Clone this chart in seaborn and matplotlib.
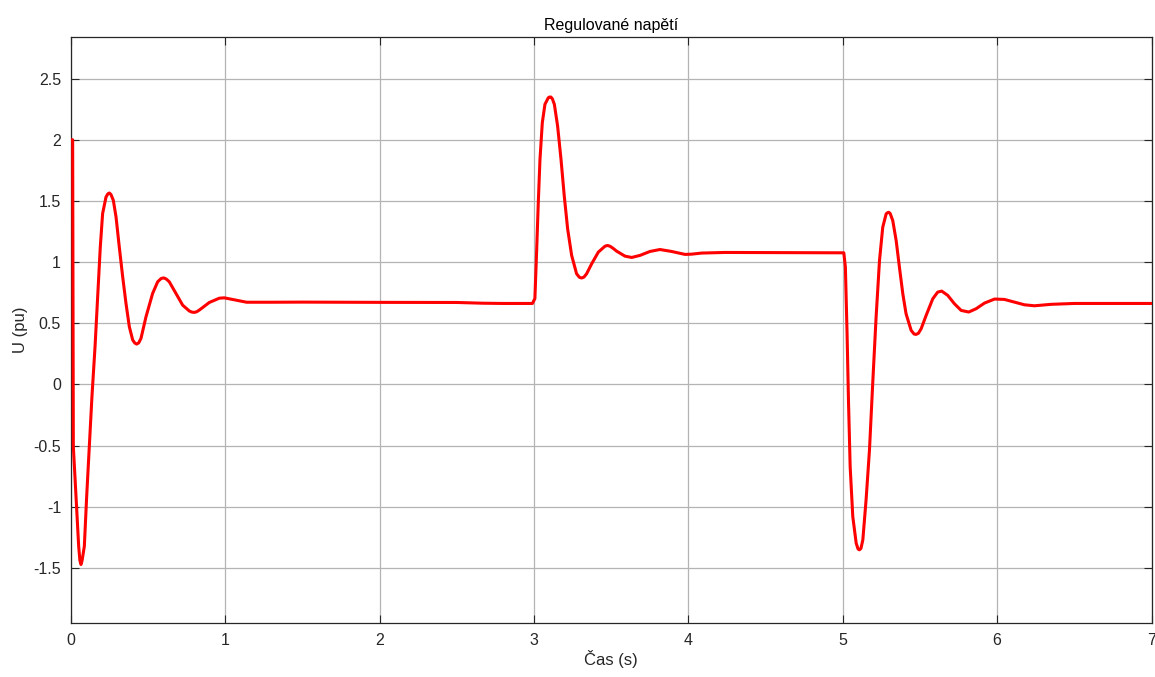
import matplotlib
matplotlib.use("Agg")
import matplotlib.pyplot as plt
import seaborn as sns
import pandas as pd
from matplotlib.ticker import FixedLocator, FuncFormatter

time_s = [
    0.0, 0.012, 0.0164, 0.0337, 0.051, 0.059, 0.066, 0.073, 0.0877, 0.1028, 0.12, 0.137,
    0.157, 0.174, 0.191, 0.206, 0.228, 0.240, 0.2496, 0.260, 0.2755, 0.293, 0.314, 0.336,
    0.3575, 0.379, 0.401, 0.415, 0.4266, 0.440, 0.4547, 0.487, 0.530, 0.5626, 0.585, 0.6015,
    0.618, 0.638, 0.681, 0.7245, 0.768, 0.785, 0.800, 0.815, 0.8325, 0.897, 0.962, 0.994,
    1.07, 1.139, 1.3, 1.5, 2.0, 2.5, 2.67, 2.8, 2.99,
    3.006, 3.017, 3.028, 3.039, 3.054, 3.071, 3.093, 3.102, 3.110, 3.119, 3.132, 3.153,
    3.175, 3.196, 3.218, 3.244, 3.276, 3.294, 3.309, 3.324, 3.341, 3.374, 3.417, 3.460,
    3.476, 3.492, 3.510, 3.535, 3.589, 3.633, 3.687, 3.751, 3.816, 3.892, 3.978, 4.021,
    4.086, 4.237, 4.5, 5.0,
    5.007, 5.017, 5.028, 5.037, 5.048, 5.065, 5.087, 5.099, 5.108, 5.118, 5.130, 5.151,
    5.173, 5.194, 5.216, 5.238, 5.259, 5.281, 5.290, 5.298, 5.307, 5.324, 5.346, 5.367,
    5.389, 5.410, 5.443, 5.462, 5.475, 5.490, 5.508, 5.540, 5.583, 5.615, 5.641, 5.680,
    5.723, 5.767, 5.816, 5.864, 5.918, 5.983, 6.047, 6.112, 6.177, 6.242,
    6.35, 6.5, 7.0,
]
voltage_pu = [
    2.0, 2.0, -0.507, -0.915, -1.323, -1.440, -1.472, -1.440, -1.323, -0.915, -0.507, -0.099,
    0.309, 0.716, 1.124, 1.396, 1.532, 1.558, 1.565, 1.553, 1.505, 1.369, 1.124, 0.880,
    0.662, 0.472, 0.363, 0.338, 0.330, 0.340, 0.377, 0.553, 0.744, 0.839, 0.866, 0.871,
    0.862, 0.839, 0.744, 0.648, 0.600, 0.591, 0.589, 0.594, 0.608, 0.670, 0.705, 0.708,
    0.689, 0.672, 0.672, 0.673, 0.671, 0.670, 0.664, 0.662, 0.662,
    0.702, 1.082, 1.489, 1.842, 2.140, 2.290, 2.344, 2.350, 2.349, 2.335, 2.290, 2.113,
    1.842, 1.543, 1.272, 1.055, 0.905, 0.876, 0.870, 0.878, 0.905, 0.987, 1.082, 1.130,
    1.136, 1.130, 1.115, 1.090, 1.049, 1.038, 1.055, 1.087, 1.103, 1.087, 1.063, 1.065,
    1.074, 1.079, 1.078, 1.077,
    1.076, 0.959, 0.415, -0.129, -0.673, -1.081, -1.298, -1.345, -1.352, -1.340, -1.271, -0.945,
    -0.537, 0.007, 0.551, 1.013, 1.285, 1.394, 1.404, 1.407, 1.398, 1.339, 1.176, 0.959,
    0.741, 0.578, 0.442, 0.412, 0.409, 0.418, 0.456, 0.564, 0.700, 0.755, 0.763, 0.728,
    0.660, 0.605, 0.592, 0.619, 0.665, 0.698, 0.695, 0.673, 0.651, 0.643,
    0.655, 0.662, 0.662,
]
x_ticks = [0, 1, 2, 3, 4, 5, 6, 7]
y_ticks = [-1.5, -1, -0.5, 0, 0.5, 1, 1.5, 2, 2.5]

title_text = "Regulované napětí"
x_label = "Čas (s)"
y_label = "U (pu)"

df = pd.DataFrame({"t": time_s, "u": voltage_pu})

sns.set_theme(style="white")
plt.rcParams["font.family"] = ["Liberation Sans", "DejaVu Sans"]

fig = plt.figure(figsize=(11.55, 6.77), dpi=100)
ax = fig.add_axes([0.0613, 0.0798, 0.9357, 0.8655])

sns.lineplot(data=df, x="t", y="u", ax=ax, color="#ff0000", linewidth=2.2,
             estimator=None, sort=False, zorder=3, solid_joinstyle="round")

ax.set_xlim(0, 7)
ax.set_ylim(-1.95, 2.84)
ax.xaxis.set_major_locator(FixedLocator(x_ticks))
ax.yaxis.set_major_locator(FixedLocator(y_ticks))
fmt = FuncFormatter(lambda v, p: ("%g" % v).replace("\u2212", "-"))
ax.xaxis.set_major_formatter(fmt)
ax.yaxis.set_major_formatter(fmt)

ax.grid(True, color="#b4b4b4", linewidth=0.9, zorder=0)
ax.tick_params(axis="both", which="both", direction="in", length=6, width=0.8,
               colors="#262626", labelsize=11.5, top=True, right=True,
               bottom=True, left=True, pad=7)
ax.tick_params(axis="both", labelcolor="#262626")
for sp in ax.spines.values():
    sp.set_visible(True)
    sp.set_color("#262626")
    sp.set_linewidth(0.9)

ax.set_title(title_text, fontsize=11.5, color="#000000", pad=5)
ax.set_xlabel(x_label, fontsize=12, color="#262626", labelpad=2)
ax.set_ylabel(y_label, fontsize=12, color="#262626", labelpad=4)

fig.savefig("out.png", dpi=100, facecolor="white")
